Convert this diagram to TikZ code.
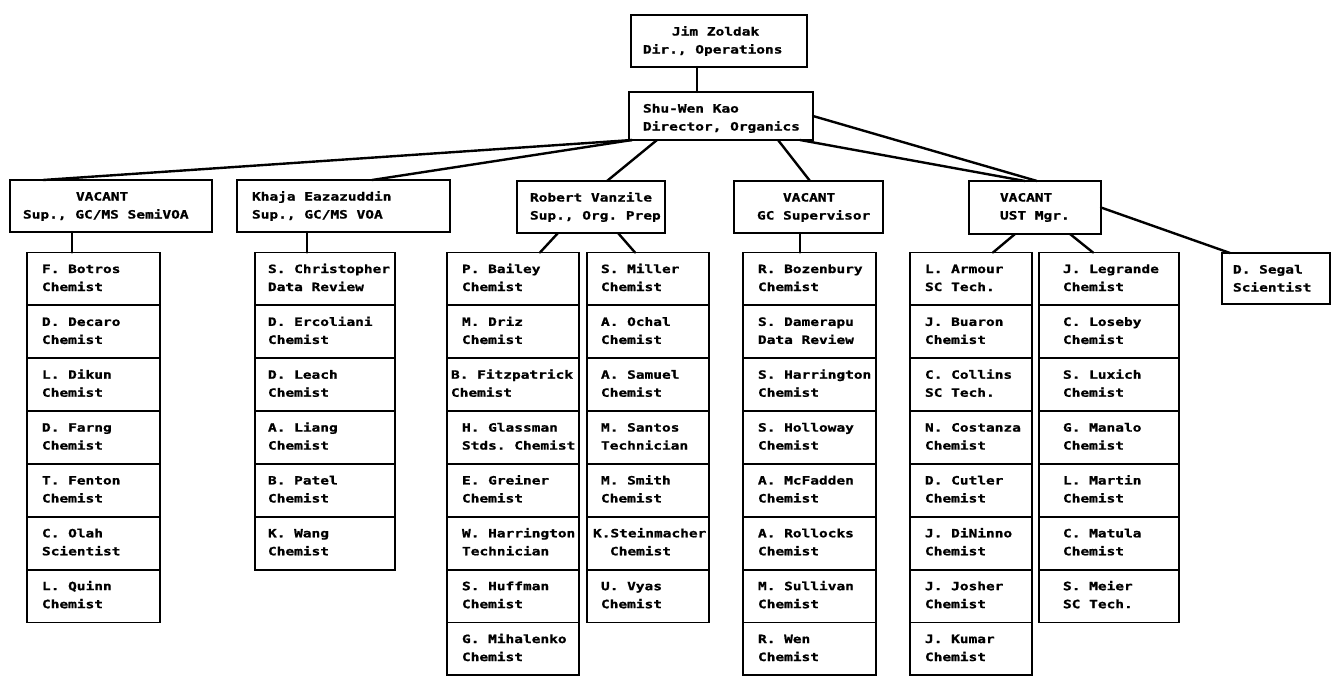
\documentclass[tikz,border=0pt]{standalone}
\usepackage{fontspec}
\newfontfamily\orgfont{DejaVu Sans Mono}[FakeStretch=1.27, BoldFeatures={FakeBold=1.2}]
\usetikzlibrary{calc}
\tikzset{
  pbox/.style={draw=black, line width=1.8pt, inner sep=0pt, outer sep=0pt},
  ptxt/.style={inner sep=0pt, outer sep=0pt, align=left,
    font=\orgfont\bfseries\fontsize{11.4}{18}\selectfont\frenchspacing},
  link/.style={draw=black, line width=2.4pt, line cap=round}
}
% #1 name, #2 x, #3 y(top), #4 width, #5 height, #6 text pad, #7 line 1, #8 line 2
\newcommand\orgbox[8]{%
  \node[pbox, minimum width=#4pt, minimum height=#5pt, anchor=north west] (#1) at (#2,#3) {};
  \node[ptxt, anchor=north west] (#1-t) at ($(#1.north west)+(#6,10.5)$) {\rule{0pt}{10pt}#7\\#8};
}
% #1 prefix, #2 x, #3 width, #4 pad, #5 list
\newcommand\orgcol[5]{%
  \foreach \na/\nb [count=\k from 0] in {#5} {
    \orgbox{#1\k}{#2}{252.5+\k*52.86}{#3}{52.86}{#4}{\na}{\nb}
  }
}
\begin{document}
\begin{tikzpicture}[x=1pt,y=-1pt]
\useasboundingbox (0,0) rectangle (1331,675);
\fill[white] (0,0) rectangle (1331,675);
\clip (0,0) rectangle (1331,675);

\orgbox{jim}{631}{15}{176}{52}{12}{\hspace*{29pt}Jim Zoldak}{Dir., Operations}
\orgbox{shu}{629}{92}{184}{48}{14}{Shu-Wen Kao}{Director, Organics}

\orgbox{hA}{10}{180}{202}{52}{13}{\hspace*{53pt}VACANT}{Sup., GC/MS SemiVOA}
\orgbox{hB}{237}{180}{213}{52}{15}{Khaja Eazazuddin}{Sup., GC/MS VOA}
\orgbox{hC}{517}{181}{148}{52}{13}{Robert Vanzile}{Sup., Org. Prep}
\orgbox{hD}{734}{181}{149}{52}{23}{\hspace*{26pt}VACANT}{GC Supervisor}
\orgbox{hE}{969}{181}{132}{53}{31}{VACANT}{UST Mgr.}
\orgbox{segal}{1222}{253}{108}{51}{11}{D. Segal}{Scientist}

\orgcol{c1r}{27}{133}{15}{F. Botros/Chemist, D. Decaro/Chemist, L. Dikun/Chemist, D. Farng/Chemist, T. Fenton/Chemist, C. Olah/Scientist, L. Quinn/Chemist}
\orgcol{c2r}{255}{140}{13}{S. Christopher/Data Review, D. Ercoliani/Chemist, D. Leach/Chemist, A. Liang/Chemist, B. Patel/Chemist, K. Wang/Chemist}
\orgcol{c3r}{447}{132}{15}{P. Bailey/Chemist, M. Driz/Chemist, \hspace*{-11pt}B. Fitzpatrick/\hspace*{-11pt}Chemist, H. Glassman/Stds. Chemist, E. Greiner/Chemist, W. Harrington/Technician, S. Huffman/Chemist, G. Mihalenko/Chemist}
\orgcol{c4r}{587}{122}{14}{S. Miller/Chemist, A. Ochal/Chemist, A. Samuel/Chemist, M. Santos/Technician, M. Smith/Chemist, \hspace*{-8pt}K.Steinmacher/\hspace*{9pt}Chemist, U. Vyas/Chemist}
\orgcol{c5r}{743}{133}{15}{R. Bozenbury/Chemist, S. Damerapu/Data Review, S. Harrington/Chemist, S. Holloway/Chemist, A. McFadden/Chemist, A. Rollocks/Chemist, M. Sullivan/Chemist, R. Wen/Chemist}
\orgcol{c6r}{910}{122}{15}{L. Armour/SC Tech., J. Buaron/Chemist, C. Collins/SC Tech., N. Costanza/Chemist, D. Cutler/Chemist, J. DiNinno/Chemist, J. Josher/Chemist, J. Kumar/Chemist}
\orgcol{c7r}{1039}{140}{24}{J. Legrande/Chemist, C. Loseby/Chemist, S. Luxich/Chemist, G. Manalo/Chemist, L. Martin/Chemist, C. Matula/Chemist, S. Meier/SC Tech.}

\draw[link] ($(jim.south west)+(66,0)$) -- ($(shu.north west)+(68,0)$);
\draw[link] ($(shu.south west)+(3,0)$) -- ($(hA.north west)+(33,0)$);
\draw[link] ($(shu.south west)+(3,0)$) -- ($(hB.north west)+(135,0)$);
\draw[link] ($(shu.south west)+(28,0)$) -- ($(hC.north west)+(90,0)$);
\draw[link] ($(shu.south west)+(149,0)$) -- ($(hD.north west)+(76,0)$);
\draw[link] (shu.east) -- ($(hE.north west)+(68,0)$);
\draw[link] ($(shu.south east)+(-13,0)$) -- ($(hE.north west)+(56,0)$);
\draw[link] (hE.east) -- ($(segal.north west)+(8,0)$);
\draw[link] ($(hE.south west)+(46,0)$) -- ($(c6r0.north west)+(83,0)$);
\draw[link] ($(hE.south west)+(101,0)$) -- ($(c7r0.north west)+(54,0)$);
\draw[link] ($(hC.south west)+(41,0)$) -- ($(c3r0.north west)+(93,0)$);
\draw[link] ($(hC.south west)+(101,0)$) -- ($(c4r0.north west)+(48,0)$);
\draw[link] ($(hA.south west)+(62,0)$) -- ($(c1r0.north west)+(45,0)$);
\draw[link] ($(hB.south west)+(70,0)$) -- ($(c2r0.north west)+(52,0)$);
\draw[link] ($(hD.south west)+(66,0)$) -- ($(c5r0.north west)+(57,0)$);
\end{tikzpicture}
\end{document}
